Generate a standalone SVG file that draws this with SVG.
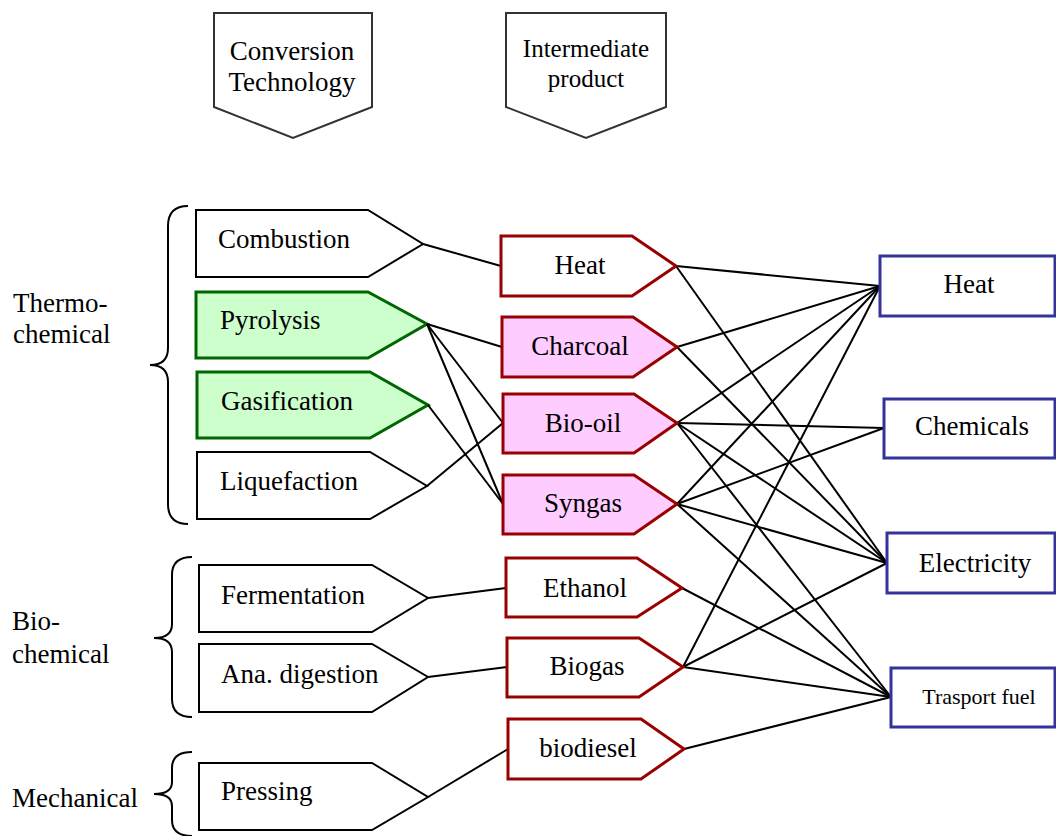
<svg xmlns="http://www.w3.org/2000/svg" width="1056" height="836" viewBox="0 0 1056 836" font-family="Liberation Serif, serif">
<style>
text{fill:#000;font-size:25px}
text.t22{font-size:22px}
.hdr{fill:#fff;stroke:#333;stroke-width:2}
.conv{fill:#fff;stroke:#000;stroke-width:2}
.green{fill:#ccffcc;stroke:#006600;stroke-width:3}
.inter{fill:#fff;stroke:#990000;stroke-width:3}
.pink{fill:#ffccff;stroke:#990000;stroke-width:3}
.out{fill:#fff;stroke:#333399;stroke-width:3}
.brace{fill:none;stroke:#000;stroke-width:2}
.mid{text-anchor:middle}
#connectors line{stroke:#000;stroke-width:2}
</style>
<rect width="1056" height="836" fill="#fff"/>

<g id="hdr-conversion">
<polygon class="hdr" points="214,13 372,13 372,107 293,138 214,107"/>
<text class="mid" transform="translate(292,60) scale(1.08)">Conversion</text>
<text class="mid" transform="translate(292,91) scale(1.08)">Technology</text>
</g>
<g id="hdr-intermediate">
<polygon class="hdr" points="506,13 666,13 666,107 586,138 506,107"/>
<text class="mid" x="586" y="57">Intermediate</text>
<text class="mid" x="586" y="87">product</text>
</g>

<g id="grp-thermo">
<path class="brace" d="M188,206 Q168,206 168,226 L168,348 Q168,365 150,365 Q168,365 168,382 L168,504 Q168,524 188,524"/>
<text transform="translate(13,312) scale(1.08)">Thermo-</text>
<text transform="translate(13,343) scale(1.08)">chemical</text>
</g>
<g id="grp-bio">
<path class="brace" d="M192,557 Q172,557 172,575 L172,624 Q172,638 154,638 Q172,638 172,652 L172,699 Q172,717 192,717"/>
<text transform="translate(12,630) scale(1.08)">Bio-</text>
<text transform="translate(12,663) scale(1.08)">chemical</text>
</g>
<g id="grp-mech">
<path class="brace" d="M192,752 Q172,752 172,768 L172,782 Q172,794 154,794 Q172,794 172,806 L172,820 Q172,836 192,836"/>
<text transform="translate(12,807) scale(1.08)">Mechanical</text>
</g>

<g id="combustion">
<polygon class="conv" points="196,210 368,210 423,244 368,277 196,277"/>
<text transform="translate(218,248) scale(1.08)">Combustion</text>
</g>
<g id="pyrolysis">
<polygon class="green" points="196,292 368,292 427,324 368,358 196,358"/>
<text transform="translate(220,329) scale(1.08)">Pyrolysis</text>
</g>
<g id="gasification">
<polygon class="green" points="197,372 370,372 428,405 370,438 197,438"/>
<text transform="translate(221,410) scale(1.08)">Gasification</text>
</g>
<g id="liquefaction">
<polygon class="conv" points="197,452 370,452 427,486 370,519 197,519"/>
<text transform="translate(220,490) scale(1.08)">Liquefaction</text>
</g>
<g id="fermentation">
<polygon class="conv" points="199,565 372,565 428,598 372,632 199,632"/>
<text transform="translate(221,604) scale(1.08)">Fermentation</text>
</g>
<g id="anadigestion">
<polygon class="conv" points="199,644 372,644 428,677 372,712 199,712"/>
<text transform="translate(221,683) scale(1.08)">Ana. digestion</text>
</g>
<g id="pressing">
<polygon class="conv" points="199,763 372,763 428,797 372,830 199,830"/>
<text transform="translate(221,800) scale(1.08)">Pressing</text>
</g>

<g id="connectors">
<line x1="423" y1="244" x2="501" y2="266"/>
<line x1="427" y1="324" x2="502" y2="347"/>
<line x1="427" y1="324" x2="503" y2="423"/>
<line x1="427" y1="324" x2="503" y2="504"/>
<line x1="428" y1="405" x2="503" y2="504"/>
<line x1="427" y1="486" x2="503" y2="423"/>
<line x1="428" y1="598" x2="506" y2="588"/>
<line x1="428" y1="677" x2="507" y2="667"/>
<line x1="428" y1="797" x2="508" y2="749"/>
<line x1="676" y1="266" x2="880" y2="286"/>
<line x1="676" y1="266" x2="887" y2="563"/>
<line x1="677" y1="347" x2="880" y2="286"/>
<line x1="677" y1="347" x2="887" y2="563"/>
<line x1="677" y1="423" x2="880" y2="286"/>
<line x1="677" y1="423" x2="884" y2="428"/>
<line x1="677" y1="423" x2="887" y2="563"/>
<line x1="677" y1="423" x2="891" y2="697"/>
<line x1="677" y1="504" x2="880" y2="286"/>
<line x1="677" y1="504" x2="884" y2="428"/>
<line x1="677" y1="504" x2="887" y2="563"/>
<line x1="677" y1="504" x2="891" y2="697"/>
<line x1="682" y1="588" x2="891" y2="697"/>
<line x1="683" y1="667" x2="880" y2="286"/>
<line x1="683" y1="667" x2="887" y2="563"/>
<line x1="683" y1="667" x2="891" y2="697"/>
<line x1="684" y1="749" x2="891" y2="697"/>
</g>

<g id="i-heat">
<polygon class="inter" points="501,236 632,236 676,266 632,296 501,296"/>
<text class="mid" transform="translate(580,274) scale(1.08)">Heat</text>
</g>
<g id="i-charcoal">
<polygon class="pink" points="502,317 633,317 677,347 633,377 502,377"/>
<text class="mid" transform="translate(580,355) scale(1.08)">Charcoal</text>
</g>
<g id="i-biooil">
<polygon class="pink" points="503,394 634,394 677,423 634,453 503,453"/>
<text class="mid" transform="translate(583,432) scale(1.08)">Bio-oil</text>
</g>
<g id="i-syngas">
<polygon class="pink" points="503,475 634,475 677,504 634,534 503,534"/>
<text class="mid" transform="translate(583,512) scale(1.08)">Syngas</text>
</g>
<g id="i-ethanol">
<polygon class="inter" points="506,558 637,558 682,588 637,617 506,617"/>
<text class="mid" transform="translate(585,597) scale(1.08)">Ethanol</text>
</g>
<g id="i-biogas">
<polygon class="inter" points="507,638 639,638 683,667 639,697 507,697"/>
<text class="mid" transform="translate(587,675) scale(1.08)">Biogas</text>
</g>
<g id="i-biodiesel">
<polygon class="inter" points="508,719 641,719 684,749 641,779 508,779"/>
<text class="mid" transform="translate(588,757) scale(1.08)">biodiesel</text>
</g>

<g id="o-heat">
<rect class="out" x="880" y="256" width="175" height="60"/>
<text class="mid" transform="translate(969,293) scale(1.08)">Heat</text>
</g>
<g id="o-chemicals">
<rect class="out" x="884" y="399" width="171" height="59"/>
<text class="mid" transform="translate(972,435) scale(1.08)">Chemicals</text>
</g>
<g id="o-electricity">
<rect class="out" x="887" y="533" width="168" height="60"/>
<text class="mid" transform="translate(975,572) scale(1.08)">Electricity</text>
</g>
<g id="o-transport">
<rect class="out" x="891" y="668" width="164" height="59"/>
<text class="mid t22" x="979" y="704">Trasport fuel</text>
</g>
</svg>
